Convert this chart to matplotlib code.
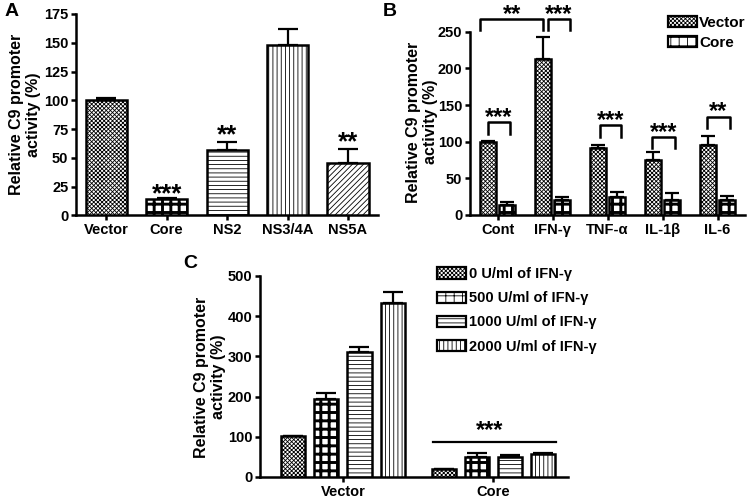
import numpy as np
import matplotlib as mpl
import matplotlib.pyplot as plt
from matplotlib.patches import Patch
from matplotlib.transforms import offset_copy

mpl.rcParams['font.family'] = ['Liberation Sans', 'DejaVu Sans']
mpl.rcParams['font.weight'] = 'bold'
mpl.rcParams['axes.labelweight'] = 'bold'
mpl.rcParams['axes.linewidth'] = 1.8
mpl.rcParams['xtick.major.width'] = 1.8
mpl.rcParams['ytick.major.width'] = 1.8
mpl.rcParams['xtick.major.size'] = 3.5
mpl.rcParams['ytick.major.size'] = 3.5
mpl.rcParams['hatch.linewidth'] = 0.6

# Panel A data
a_labels = ["Vector", "Core", "NS2", "NS3/4A", "NS5A"]
a_means = [100, 14, 57, 148, 46]
a_errs = [2, 1.5, 7, 14, 12]
a_stars = ["", "***", "**", "", "**"]
a_star_y = [0, 25, 76, 0, 70]

# Panel B data
b_labels = ["Cont", "IFN-γ", "TNF-α", "IL-1β", "IL-6"]
b_vector = [100, 213, 92, 75, 95]
b_vector_err = [1, 30, 4, 11, 13]
b_core = [14, 21, 24, 21, 21]
b_core_err = [4, 3, 8, 9, 5]
# significance brackets: x from, x to, bracket top, leg end, label
b_brackets = [(-0.31, 0.83, 267, 252, "**"), (0.92, 1.31, 267, 252, "***"),
              (-0.18, 0.23, 127, 110, "***"), (1.86, 2.25, 123, 106, "***"),
              (2.81, 3.23, 106, 91, "***"), (3.80, 4.22, 134, 118, "**")]

# Panel C data
c_groups = ["Vector", "Core"]
c_doses = ["0 U/ml of IFN-γ", "500 U/ml of IFN-γ",
           "1000 U/ml of IFN-γ", "2000 U/ml of IFN-γ"]
c_vector = [101, 194, 312, 432]
c_vector_err = [2, 15, 12, 28]
c_core = [20, 49, 50, 56]
c_core_err = [1, 11, 5, 3]

VEC_HATCH = "xxxxxxxx"
CORE_HATCH = "++"
ylab = "Relative C9 promoter\nactivity (%)"
STAR_FS = 17


def hlw(p, lw):
    if hasattr(p, "set_hatch_linewidth"):
        p.set_hatch_linewidth(lw)


def hbar(ax, x, h, width, hatch):
    lw = 2.1 if hatch == CORE_HATCH else 0.6
    with mpl.rc_context({'hatch.linewidth': lw}):
        bars = ax.bar(x, h, width, color="white", edgecolor="black", hatch=hatch,
                      linewidth=1.8, zorder=3)
    for p in bars:
        hlw(p, lw)


def swatch(hatch):
    lw = 2.1 if hatch == CORE_HATCH else 0.6
    with mpl.rc_context({'hatch.linewidth': lw}):
        p = Patch(facecolor="white", edgecolor="black", hatch=hatch, lw=1.6)
    hlw(p, lw)
    return p


def errs(ax, x, h, e, cap):
    e = np.asarray(e)
    ax.errorbar(x, h, yerr=[np.zeros_like(e), e], fmt="none", ecolor="black",
                elinewidth=1.6, capsize=cap, capthick=1.6, zorder=2)


def star(ax, x, yc, s, fs=STAR_FS):
    # yc is the visual centre of the asterisks
    tr = offset_copy(ax.transData, fig=ax.figure, y=-0.57 * fs, units="points")
    ax.text(x, yc, s, ha="center", va="baseline", fontsize=fs,
            transform=tr, clip_on=False)


def style(ax):
    for s in ["top", "right"]:
        ax.spines[s].set_visible(False)
    ax.tick_params(labelsize=10.5, pad=2)


fig = plt.figure(figsize=(7.5, 4.98), dpi=100)

### A ###
axA = fig.add_axes([0.1013, 0.5673, 0.403, 0.4046])
xa = np.arange(len(a_labels))
a_hatches = [VEC_HATCH, CORE_HATCH, "----", "||||", "//////"]
for i in xa:
    hbar(axA, i, a_means[i], 0.68, a_hatches[i])
errs(axA, xa, a_means, a_errs, 7.5)
for i in xa:
    if a_stars[i]:
        star(axA, i, a_star_y[i], a_stars[i], 18.5)
axA.set_xlim(-0.5, 4.5)
axA.set_ylim(0, 175)
axA.set_yticks(np.arange(0, 176, 25))
axA.set_xticks(xa)
axA.set_xticklabels(a_labels)
style(axA)
axA.set_ylabel(ylab, fontsize=11.5, va="center")
axA.yaxis.set_label_coords(25 / 750, 0.77, transform=fig.transFigure)

### B ###
axB = fig.add_axes([0.6267, 0.5683, 0.3667, 0.368])
xb = np.arange(len(b_labels))
hbar(axB, xb - 0.17, b_vector, 0.28, VEC_HATCH)
hbar(axB, xb + 0.17, b_core, 0.28, CORE_HATCH)
errs(axB, xb - 0.17, b_vector, b_vector_err, 5)
errs(axB, xb + 0.17, b_core, b_core_err, 5)
for x1, x2, top, leg, s in b_brackets:
    axB.plot([x1, x1, x2, x2], [leg, top, top, leg], color="black", lw=1.8,
             clip_on=False, zorder=4)
    star(axB, (x1 + x2) / 2, top + 16, s)
axB.set_xlim(-0.5, 4.5)
axB.set_ylim(0, 250)
axB.set_yticks(np.arange(0, 251, 50))
axB.set_xticks(xb)
axB.set_xticklabels(b_labels)
style(axB)
axB.set_ylabel(ylab, fontsize=11.5, va="center")
axB.yaxis.set_label_coords(422 / 750, 0.755, transform=fig.transFigure)
axB.legend(handles=[swatch(VEC_HATCH), swatch(CORE_HATCH)],
           labels=["Vector", "Core"], loc="upper left",
           bbox_to_anchor=(668 / 750, 1 - 16 / 498), bbox_transform=fig.transFigure,
           frameon=False, fontsize=11, handlelength=1.9, handleheight=0.75,
           handletextpad=0.15, labelspacing=0.4, borderpad=0, borderaxespad=0)

### C ###
axC = fig.add_axes([0.3467, 0.0422, 0.4107, 0.4036])
xc = np.arange(len(c_groups))
offs = [-0.33, -0.11, 0.11, 0.33]
c_hatches = [VEC_HATCH, CORE_HATCH, "----", "||||"]
for j in range(4):
    vals = [c_vector[j], c_core[j]]
    ers = [c_vector_err[j], c_core_err[j]]
    hbar(axC, xc + offs[j], vals, 0.16, c_hatches[j])
    errs(axC, xc + offs[j], vals, ers, 7)
axC.plot([0.6, 1.42], [88, 88], color="black", lw=1.6)
star(axC, 0.98, 134, "***")
axC.set_xlim(-0.553, 1.5)
axC.set_ylim(0, 500)
axC.set_yticks(np.arange(0, 501, 100))
axC.set_xticks(xc)
axC.set_xticklabels(c_groups)
style(axC)
axC.set_ylabel(ylab, fontsize=11.5, va="center")
axC.yaxis.set_label_coords(210 / 750, 1 - 377 / 498, transform=fig.transFigure)
axC.legend(handles=[swatch(h) for h in c_hatches], labels=c_doses, loc="upper left",
           bbox_to_anchor=(437 / 750, 1 - 267 / 498), bbox_transform=fig.transFigure,
           frameon=False, fontsize=10.5, handlelength=2.0, handleheight=0.8,
           handletextpad=0.2, labelspacing=0.7, borderpad=0, borderaxespad=0)

# panel letters
fig.text(5 / 750, 1 - 12 / 498, "A", fontsize=14, va="center")
fig.text(383 / 750, 1 - 12 / 498, "B", fontsize=14, va="center")
fig.text(183 / 750, 1 - 263 / 498, "C", fontsize=14, va="center")

fig.savefig("out.png", dpi=100)
